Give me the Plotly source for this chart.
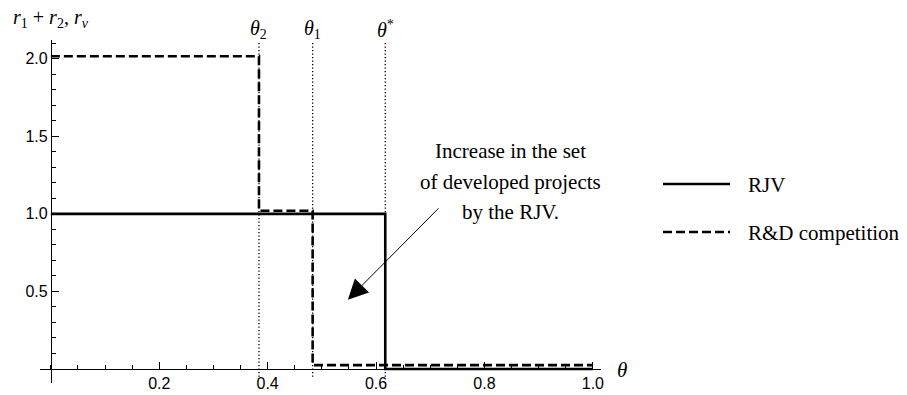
import plotly.graph_objects as go

# thresholds
theta_names = ["<i>θ</i><sub>2</sub>", "<i>θ</i><sub>1</sub>", "<i>θ</i><sup>*</sup>"]
theta_vals = [0.384, 0.483, 0.617]

# RJV: r_v (step function)
rjv_x = [0.0, 0.617, 1.0]
rjv_y = [1.0, 0.0, 0.0]

# R&D competition: r1 + r2 (step function)
rd_x = [0.0, 0.384, 0.483, 1.0]
rd_y = [2.015, 1.02, 0.025, 0.025]

x_ticks = [0.2, 0.4, 0.6, 0.8, 1.0]
y_ticks = [0.5, 1.0, 1.5, 2.0]

note_lines = ["Increase in the set", "of developed projects", "by the RJV."]

XR = [-0.02, 1.015]
YR = [-0.09, 2.12]

SERIF = "Liberation Serif"
SANS = "Liberation Sans"

fig = go.Figure()

# dotted vertical guides
for t in theta_vals:
    fig.add_trace(go.Scatter(
        x=[t, t], y=[-0.05, 2.1], mode="lines",
        line=dict(color="black", width=1.3, dash="1.3px,2.2px"),
        showlegend=False, hoverinfo="skip"))

fig.add_trace(go.Scatter(
    x=rd_x, y=rd_y, mode="lines", line_shape="hv", name="R&D competition",
    line=dict(color="black", width=2.6, dash="9px,4px"), showlegend=False))

fig.add_trace(go.Scatter(
    x=rjv_x, y=rjv_y, mode="lines", line_shape="hv", name="RJV",
    line=dict(color="black", width=2.6), showlegend=False))

# page has an 8px body margin, so work in the reference's pixel grid
def px_x(p):
    return (p - 40) / 561

def px_y(p):
    return (383 - p) / 343

# threshold labels
for name, t in zip(theta_names, theta_vals):
    fig.add_annotation(x=t, y=px_y(29), xref="x", yref="paper", text=name,
                       showarrow=False, font=dict(family=SERIF, size=20, color="black"),
                       xanchor="center", yanchor="middle")

# axis labels
fig.add_annotation(x=px_x(51), y=px_y(19), xref="paper", yref="paper",
                   text="<i>r</i><sub>1</sub> + <i>r</i><sub>2</sub>, <i>r</i><sub><i>v</i></sub>",
                   showarrow=False, font=dict(family=SERIF, size=20, color="black"),
                   xanchor="center", yanchor="middle", borderpad=0)
fig.add_annotation(x=px_x(622), y=px_y(370), xref="paper", yref="paper",
                   text="<i>θ</i>", showarrow=False,
                   font=dict(family=SERIF, size=21, color="black"),
                   xanchor="center", yanchor="middle")

# note, one line each to get the wider line spacing
for i, line in enumerate(note_lines):
    fig.add_annotation(x=px_x(510), y=px_y(151 + 30.5 * i), xref="paper", yref="paper",
                       text=line, showarrow=False, xanchor="center", yanchor="middle",
                       font=dict(family=SERIF, size=21, color="black"))
fig.add_annotation(x=0.548, y=0.447, ax=0.718, ay=1.045, xref="x", yref="y",
                   axref="x", ayref="y", text="", showarrow=True,
                   arrowhead=2, arrowsize=4, arrowwidth=1, arrowcolor="black")

# legend drawn by hand (longer samples than plotly's legend allows)
legend_items = [("RJV", "solid", 184), ("R&D competition", "9px,4px", 232)]
for label, dash, py in legend_items:
    fig.add_shape(type="line", xref="paper", yref="paper",
                  x0=px_x(663), x1=px_x(730), y0=px_y(py), y1=px_y(py),
                  line=dict(color="black", width=2.6, dash=dash))
    fig.add_annotation(x=px_x(746), y=px_y(py + 1), xref="paper", yref="paper",
                       text=label, showarrow=False, xanchor="left", yanchor="middle",
                       font=dict(family=SERIF, size=21, color="black"))

fig.update_layout(
    width=899, height=387,
    margin=dict(l=32, r=306, t=32, b=12),
    paper_bgcolor="white", plot_bgcolor="white",
    showlegend=False,
    xaxis=dict(
        range=XR, anchor="free", position=0.09 / 2.21,
        tickvals=x_ticks, ticktext=[f"{v:.1f}" for v in x_ticks],
        ticks="inside", ticklen=7, tickwidth=1, tickcolor="black",
        minor=dict(dtick=0.05, tick0=0, ticks="inside", ticklen=4, tickcolor="black"),
        showline=True, linecolor="black", linewidth=1,
        showgrid=False, zeroline=False, automargin=False,
        tickfont=dict(family=SANS, size=16, color="black"),
    ),
    yaxis=dict(
        range=YR, anchor="free", position=0.02 / 1.035,
        tickvals=y_ticks, ticktext=[f"{v:.1f}" for v in y_ticks],
        ticks="inside", ticklen=7, tickwidth=1, tickcolor="black",
        minor=dict(dtick=0.1, tick0=0, ticks="inside", ticklen=4, tickcolor="black"),
        showline=True, linecolor="black", linewidth=1,
        showgrid=False, zeroline=False, automargin=False,
        tickfont=dict(family=SANS, size=16, color="black"),
    ),
)

fig.write_html("out.html")
